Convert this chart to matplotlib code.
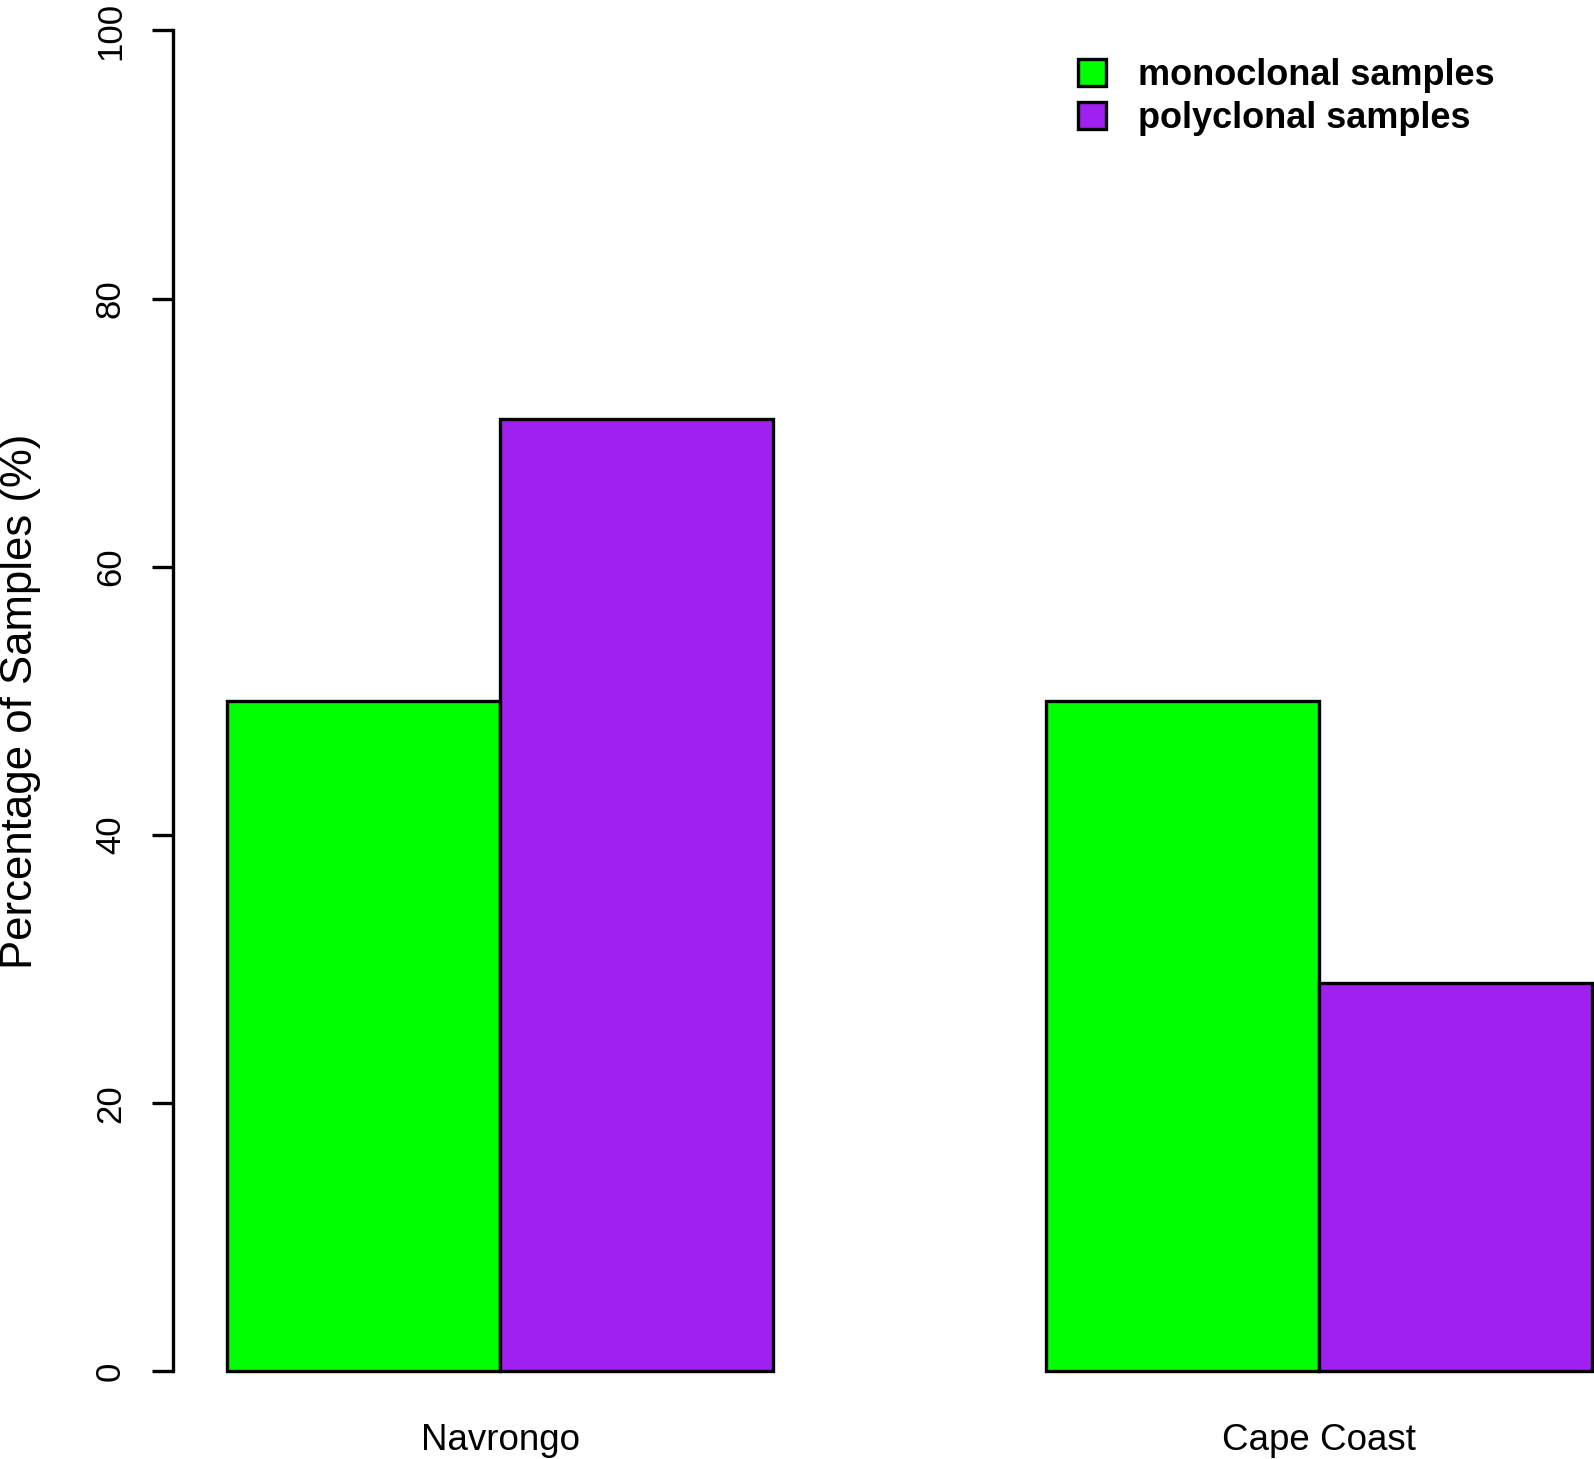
import matplotlib
matplotlib.use('Agg')
import matplotlib.pyplot as plt
import numpy as np

plt.rcParams['font.family'] = ['Liberation Sans', 'DejaVu Sans']

# Datos
sitios = ['Navrongo', 'Cape Coast']
monoclonal = [50, 50]
policlonal = [71, 29]
series = ['monoclonal samples', 'polyclonal samples']
colores = ['#00FF00', '#A020F0']
ticks_y = [0, 20, 40, 60, 80, 100]

fig = plt.figure(figsize=(15.94, 14.59), dpi=100)
ax = fig.add_axes([0.1084, 0.0600, 0.8916, 0.9191])

# posiciones tipo barplot de R (beside=TRUE, space=c(0,1))
x = np.array([1.5, 4.5])
ax.bar(x, monoclonal, width=1, color=colores[0], edgecolor='black',
       linewidth=2.4, label=series[0], clip_on=False)
ax.bar(x + 1, policlonal, width=1, color=colores[1], edgecolor='black',
       linewidth=2.4, label=series[1], clip_on=False)

ax.set_xlim(0.8, 6.008)
ax.set_ylim(0, 100)

for s in ['top', 'right', 'bottom']:
    ax.spines[s].set_visible(False)
ax.spines['left'].set_linewidth(2.4)
ax.spines['left'].set_bounds(0, 100)

ax.set_yticks(ticks_y)
ax.set_yticklabels([str(t) for t in ticks_y], rotation=90, va='center')
ax.tick_params(axis='y', length=15, width=2.4, labelsize=25, pad=18)

ax.set_xticks(x + 0.5)
ax.set_xticklabels(sitios)
ax.tick_params(axis='x', length=0, labelsize=26.5, pad=37)

fig.text(21 / 1594, 1 - 701 / 1459, 'Percentage of Samples (%)',
         rotation=90, ha='center', va='center', fontsize=31.5)

ax.legend(loc='upper left', bbox_to_anchor=(1078 / 1594, 1 - 58 / 1459),
          bbox_transform=fig.transFigure, frameon=False,
          prop={'weight': 'bold', 'size': 26},
          handlelength=0.78, handleheight=0.78, handletextpad=0.88,
          labelspacing=0.22, borderaxespad=0, borderpad=0)

fig.savefig('out.png', dpi=100)
